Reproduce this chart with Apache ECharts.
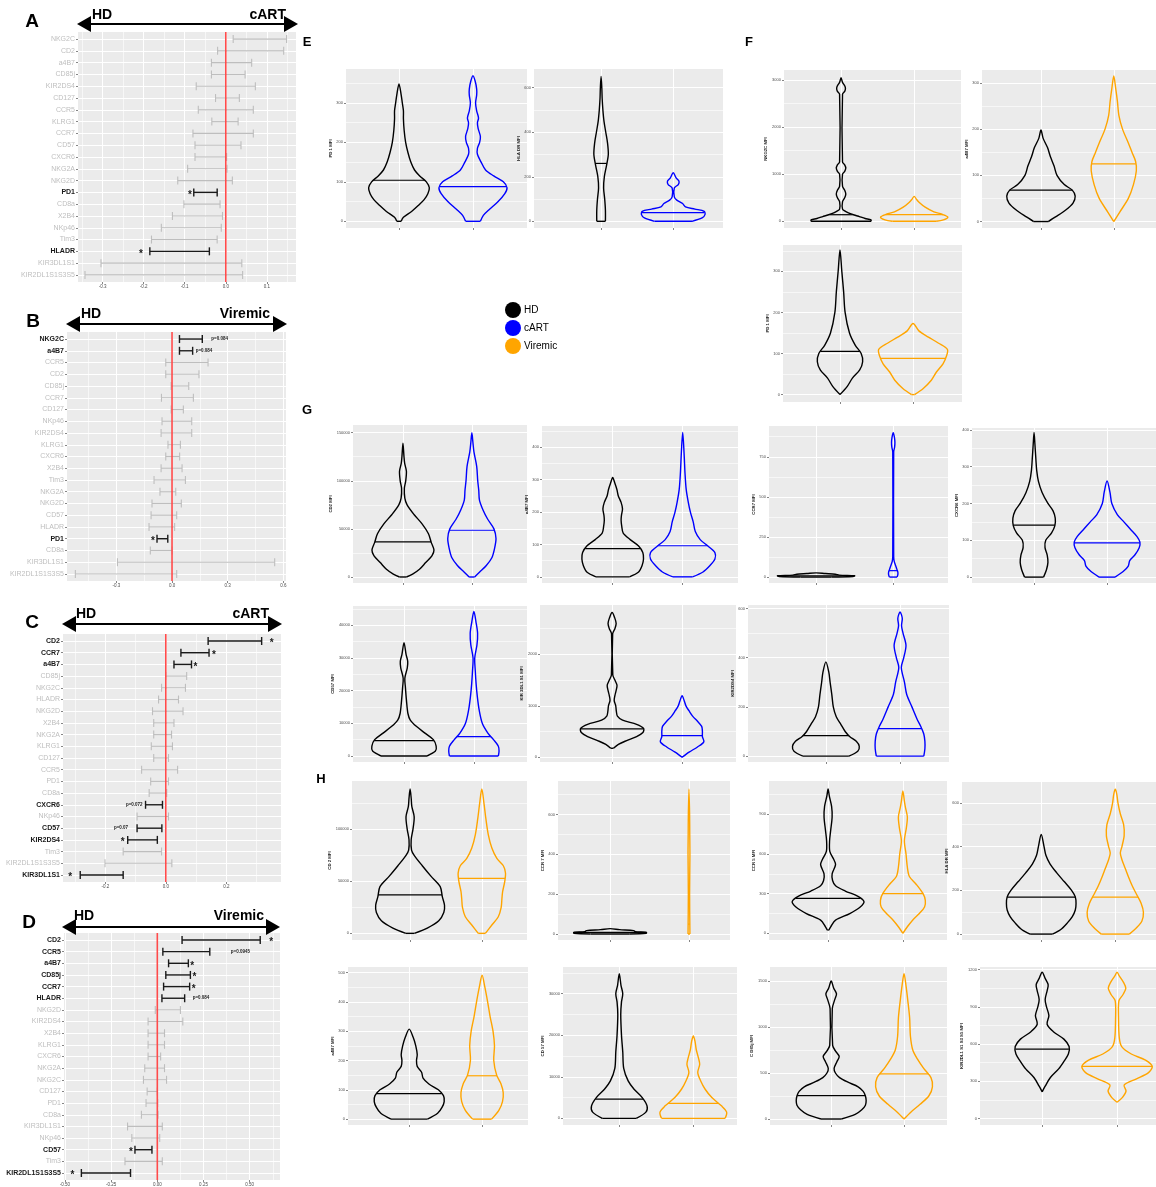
<!DOCTYPE html>
<html>
<head>
<meta charset="utf-8">
<script src="https://cdn.jsdelivr.net/npm/echarts@6/dist/echarts.min.js"></script>
<style>
html,body{margin:0;padding:0;background:#fff}
#chart{width:1156px;height:1187px}
</style>
</head>
<body>
<div id="chart"></div>
<script>
// ---------- Forest plots: marker order, interval low/high, annotations ----------
const markersA = ['NKG2C','CD2','a4B7','CD85j','KIR2DS4','CD127','CCR5','KLRG1','CCR7','CD57','CXCR6','NKG2A','NKG2D','PD1','CD8a','X2B4','NKp46','Tim3','HLADR','KIR3DL1S1','KIR2DL1S1S3S5'];
const lowA  = [0.018,-0.020,-0.035,-0.035,-0.072,-0.025,-0.067,-0.034,-0.080,-0.075,-0.075,-0.093,-0.117,-0.078,-0.102,-0.130,-0.157,-0.181,-0.185,-0.304,-0.343];
const highA = [0.148,0.141,0.063,0.047,0.072,0.033,0.067,0.030,0.067,0.037,0.002,0.003,0.016,-0.021,-0.014,-0.008,-0.011,-0.021,-0.040,0.039,0.041];
const notesA = [['PD1','*','left'],['HLADR','*','left']];
const ticksA = [-0.3,-0.2,-0.1,0,0.1];

const markersB = ['NKG2C','a4B7','CCR5','CD2','CD85j','CCR7','CD127','NKp46','KIR2DS4','KLRG1','CXCR6','X2B4','Tim3','NKG2A','NKG2D','CD57','HLADR','PD1','CD8a','KIR3DL1S1','KIR2DL1S1S3S5'];
const lowB  = [0.040,0.040,-0.034,-0.034,-0.005,-0.057,-0.005,-0.054,-0.059,-0.022,-0.034,-0.059,-0.097,-0.065,-0.108,-0.113,-0.124,-0.081,-0.117,-0.294,-0.521];
const highB = [0.163,0.111,0.194,0.145,0.090,0.115,0.061,0.106,0.106,0.045,0.041,0.054,0.072,0.020,0.050,0.025,0.014,-0.023,0.000,0.553,0.025];
const notesB = [['NKG2C','p=0.084','right'],['a4B7','p=0.084','right'],['PD1','*','left']];
const ticksB = [-0.3,0,0.3,0.6];

const markersC = ['CD2','CCR7','a4B7','CD85j','NKG2C','HLADR','NKG2D','X2B4','NKG2A','KLRG1','CD127','CCR5','PD1','CD8a','CXCR6','NKp46','CD57','KIR2DS4','Tim3','KIR2DL1S1S3S5','KIR3DL1S1'];
const lowC  = [0.140,0.050,0.027,0.000,-0.014,-0.024,-0.044,-0.040,-0.040,-0.048,-0.040,-0.080,-0.050,-0.055,-0.067,-0.095,-0.095,-0.126,-0.141,-0.201,-0.283];
const highC = [0.317,0.143,0.085,0.069,0.065,0.042,0.057,0.027,0.019,0.022,0.009,0.039,0.009,0.003,-0.011,0.009,-0.013,-0.028,-0.014,0.020,-0.141];
const notesC = [['CD2','*','right'],['CCR7','*','right'],['a4B7','*','right'],['CXCR6','p=0.072','left'],['CD57','p=0.07','left'],['KIR2DS4','*','left'],['KIR3DL1S1','*','left']];
const ticksC = [-0.2,0,0.2];

const markersD = ['CD2','CCR5','a4B7','CD85j','CCR7','HLADR','NKG2D','KIR2DS4','X2B4','KLRG1','CXCR6','NKG2A','NKG2C','CD127','PD1','CD8a','KIR3DL1S1','NKp46','CD57','Tim3','KIR2DL1S1S3S5'];
const lowD  = [0.134,0.030,0.061,0.046,0.034,0.025,-0.011,-0.050,-0.050,-0.050,-0.050,-0.068,-0.075,-0.055,-0.061,-0.086,-0.161,-0.138,-0.121,-0.175,-0.411];
const highD = [0.557,0.284,0.168,0.179,0.175,0.148,0.125,0.138,0.039,0.039,0.018,0.039,0.050,0.000,0.002,0.004,0.027,0.013,-0.029,0.027,-0.145];
const notesD = [['CD2','*','right'],['CCR5','p=0.0945','right'],['a4B7','*','right'],['CD85j','*','right'],['CCR7','*','right'],['HLADR','p=0.084','right'],['CD57','*','left'],['KIR2DL1S1S3S5','*','left']];
const ticksD = [-0.5,-0.25,0,0.25,0.5];

// ---------- Violin outlines: [MFI value, half width in group units], bottom to top ----------
const e1HD = [[0,0.03],[10,0.06],[25,0.17],[40,0.26],[55,0.34],[70,0.39],[85,0.41],[100,0.37],[115,0.28],[130,0.21],[150,0.16],[175,0.12],[200,0.09],[230,0.07],[260,0.06],[280,0.06],[300,0.045],[320,0.03],[348,0]];
const e1CART = [[0,0.1],[15,0.14],[30,0.22],[50,0.34],[70,0.43],[85,0.46],[100,0.41],[115,0.28],[130,0.17],[150,0.11],[170,0.06],[185,0.06],[200,0.09],[215,0.1],[235,0.07],[250,0.06],[262,0.075],[280,0.05],[300,0.035],[320,0.05],[335,0.05],[355,0.03],[369,0]];
const e2HD = [[0,0.06],[50,0.06],[100,0.05],[150,0.035],[200,0.045],[250,0.075],[300,0.1],[350,0.09],[400,0.065],[450,0.04],[500,0.025],[550,0.015],[600,0.01],[651,0]];
const e2CART = [[0,0.26],[15,0.4],[30,0.44],[45,0.43],[55,0.3],[65,0.17],[80,0.13],[95,0.05],[110,0.015],[150,0.015],[165,0.07],[180,0.08],[195,0.04],[218,0]];
const f1HD = [[0,0.41],[30,0.41],[60,0.33],[100,0.25],[140,0.17],[180,0.1],[220,0.05],[260,0.02],[420,0.02],[500,0.05],[580,0.065],[660,0.05],[740,0.02],[1000,0.02],[1060,0.05],[1130,0.065],[1200,0.05],[1260,0.02],[2700,0.02],[2760,0.05],[2820,0.06],[2880,0.05],[2950,0.02],[3050,0]];
const f1VIR = [[0,0.3],[30,0.4],[90,0.46],[150,0.38],[200,0.27],[300,0.15],[400,0.07],[470,0.03],[530,0]];
const f2HD = [[0,0.1],[10,0.2],[25,0.34],[40,0.44],[55,0.47],[68,0.43],[80,0.32],[100,0.22],[120,0.18],[140,0.13],[160,0.09],[180,0.03],[198,0]];
const f2VIR = [[0,0],[20,0.08],[50,0.2],[80,0.27],[110,0.31],[130,0.3],[150,0.25],[170,0.2],[200,0.12],[230,0.07],[260,0.05],[290,0.025],[315,0]];
const f3HD = [[0,0],[20,0.1],[40,0.17],[60,0.27],[80,0.31],[100,0.29],[120,0.21],[150,0.13],[200,0.07],[250,0.05],[300,0.025],[352,0]];
const f3VIR = [[0,0.02],[15,0.14],[35,0.25],[55,0.32],[75,0.41],[95,0.46],[110,0.47],[125,0.35],[140,0.21],[155,0.08],[173,0]];
const g1HD = [[0,0.05],[3000,0.14],[8000,0.24],[15000,0.33],[22000,0.42],[28000,0.45],[36000,0.41],[45000,0.37],[55000,0.28],[65000,0.16],[75000,0.06],[82000,0.027],[92000,0.02],[100000,0.04],[110000,0.05],[118000,0.025],[125000,0.015],[139000,0]];
const g1CART = [[0,0.04],[5000,0.11],[12000,0.21],[20000,0.29],[30000,0.33],[40000,0.35],[50000,0.32],[60000,0.23],[70000,0.16],[80000,0.11],[90000,0.1],[100000,0.085],[115000,0.07],[130000,0.03],[140000,0.015],[150000,0]];
const g2HD = [[0,0.24],[15,0.37],[35,0.42],[55,0.44],[75,0.43],[95,0.37],[115,0.25],[135,0.15],[155,0.13],[175,0.12],[190,0.125],[210,0.14],[230,0.12],[250,0.08],[270,0.06],[290,0.03],[307,0]];
const g2CART = [[0,0.14],[15,0.29],[35,0.39],[55,0.46],[75,0.46],[95,0.36],[115,0.25],[140,0.18],[170,0.15],[200,0.11],[230,0.08],[270,0.05],[320,0.033],[380,0.02],[446,0]];
const g3HD = [[0,0.2],[3,0.48],[8,0.5],[12,0.3],[18,0.25],[22,0.12],[26,0]];
const g3CART = [[0,0.05],[15,0.06],[30,0.06],[45,0.05],[60,0.04],[80,0.025],[100,0.012],[130,0.006],[780,0.006],[810,0.018],[840,0.022],[870,0.016],[900,0]];
const g4HD = [[0,0.13],[20,0.17],[40,0.19],[60,0.18],[80,0.15],[100,0.16],[120,0.24],[140,0.285],[160,0.29],[180,0.26],[200,0.19],[230,0.11],[260,0.06],[290,0.036],[320,0.025],[360,0.012],[393,0]];
const g4CART = [[0,0.11],[15,0.22],[30,0.29],[45,0.31],[60,0.38],[80,0.44],[95,0.45],[110,0.41],[130,0.32],[150,0.23],[170,0.14],[200,0.065],[230,0.04],[261,0]];
const g5HD = [[0,0.33],[1500,0.45],[3000,0.46],[5000,0.42],[7000,0.3],[9000,0.18],[11000,0.09],[13000,0.056],[17000,0.035],[21000,0.02],[23800,0.012],[27000,0.047],[29000,0.053],[31000,0.03],[34700,0]];
const g5CART = [[0,0.35],[1500,0.36],[3000,0.35],[5000,0.28],[7000,0.2],[10000,0.12],[14000,0.076],[18000,0.05],[22000,0.032],[26000,0.02],[30000,0.012],[34000,0.044],[37500,0.053],[41000,0.03],[44200,0]];
const g6HD = [[175,0.02],[250,0.09],[320,0.2],[400,0.35],[480,0.44],[560,0.45],[640,0.35],[720,0.15],[800,0.076],[900,0.06],[1000,0.052],[1100,0.03],[1200,0.04],[1300,0.058],[1400,0.07],[1500,0.04],[1600,0.01],[2400,0.008],[2500,0.04],[2600,0.058],[2700,0.04],[2815,0]];
const g6CART = [[0,0],[100,0.1],[200,0.22],[300,0.31],[400,0.29],[500,0.29],[600,0.28],[700,0.22],[800,0.15],[900,0.1],[1000,0.055],[1100,0.03],[1197,0]];
const g7HD = [[0,0.31],[20,0.43],[40,0.45],[60,0.41],[80,0.32],[100,0.26],[130,0.2],[160,0.14],[200,0.1],[250,0.08],[300,0.057],[340,0.04],[383,0]];
const g7CART = [[0,0.32],[30,0.335],[60,0.335],[90,0.32],[120,0.28],[150,0.23],[200,0.16],[250,0.09],[300,0.06],[360,0.017],[400,0.05],[450,0.08],[500,0.04],[530,0.02],[560,0.03],[586,0]];
const h1HD = [[0,0.06],[5000,0.24],[12000,0.4],[20000,0.47],[27000,0.48],[35000,0.45],[45000,0.42],[55000,0.29],[65000,0.17],[75000,0.057],[80000,0.02],[90000,0.015],[100000,0.04],[112000,0.057],[122000,0.024],[130000,0.015],[138800,0]];
const h1VIR = [[0,0.05],[8000,0.14],[16000,0.23],[25000,0.27],[33000,0.28],[40000,0.29],[50000,0.32],[58000,0.33],[65000,0.3],[72000,0.21],[82000,0.14],[95000,0.09],[110000,0.057],[125000,0.03],[138800,0]];
const h2HD = [[0,0.25],[4,0.46],[8,0.46],[12,0.32],[17,0.3],[22,0.12],[27,0]];
const h2VIR = [[0,0.012],[200,0.008],[400,0.012],[500,0.01],[600,0.008],[728,0]];
const h3HD = [[25,0.01],[50,0.035],[100,0.1],[150,0.29],[200,0.43],[240,0.48],[280,0.4],[320,0.23],[360,0.1],[400,0.06],[450,0.054],[520,0.1],[560,0.075],[620,0.023],[700,0.02],[780,0.035],[880,0.054],[960,0.047],[1040,0.016],[1092,0]];
const h3VIR = [[0,0],[50,0.06],[100,0.13],[150,0.22],[200,0.29],[250,0.3],[300,0.27],[370,0.18],[430,0.087],[500,0.06],[600,0.042],[700,0.02],[800,0.047],[880,0.06],[950,0.035],[1000,0.02],[1077,0]];
const h4HD = [[0,0.15],[20,0.26],[50,0.35],[80,0.42],[110,0.46],[140,0.47],[170,0.46],[200,0.41],[240,0.31],[280,0.21],[320,0.12],[360,0.063],[400,0.038],[455,0]];
const h4VIR = [[0,0.19],[30,0.29],[60,0.36],[100,0.38],[140,0.35],[180,0.29],[220,0.23],[260,0.18],[300,0.135],[340,0.09],[370,0.068],[400,0.09],[450,0.12],[500,0.113],[550,0.068],[600,0.036],[640,0.02],[662,0]];
const h5HD = [[0,0.25],[20,0.39],[40,0.45],[60,0.48],[80,0.47],[100,0.4],[120,0.27],[140,0.19],[160,0.17],[180,0.11],[200,0.1],[220,0.11],[250,0.09],[280,0.053],[307,0]];
const h5VIR = [[0,0.13],[30,0.23],[60,0.28],[90,0.29],[120,0.26],[150,0.2],[200,0.16],[250,0.17],[300,0.15],[350,0.11],[400,0.076],[450,0.038],[491,0]];
const h6HD = [[0,0.23],[1500,0.36],[3000,0.375],[5000,0.31],[7000,0.2],[9000,0.12],[12000,0.06],[16000,0.047],[20000,0.03],[25000,0.02],[28000,0.03],[30000,0.047],[32000,0.023],[34800,0]];
const h6VIR = [[0,0.43],[1500,0.45],[3000,0.38],[5000,0.25],[7000,0.16],[9000,0.1],[11000,0.06],[13000,0.086],[14500,0.07],[16500,0.04],[18500,0.023],[19800,0]];
const h7HD = [[0,0.14],[50,0.33],[100,0.42],[150,0.47],[200,0.48],[250,0.47],[300,0.44],[350,0.37],[400,0.23],[450,0.115],[500,0.058],[550,0.04],[620,0.077],[680,0.11],[740,0.058],[800,0.02],[1200,0.015],[1300,0.05],[1360,0.073],[1420,0.035],[1500,0]];
const h7VIR = [[0,0],[80,0.1],[160,0.22],[250,0.34],[350,0.39],[450,0.37],[550,0.27],[650,0.185],[750,0.12],[900,0.088],[1100,0.077],[1300,0.05],[1450,0.027],[1580,0]];
const h8HD = [[214,0],[260,0.04],[330,0.11],[400,0.22],[460,0.29],[520,0.35],[580,0.36],[640,0.29],[700,0.15],[760,0.066],[830,0.09],[900,0.058],[960,0.04],[1030,0.066],[1080,0.08],[1130,0.04],[1180,0]];
const h8VIR = [[131,0],[170,0.073],[220,0.12],[270,0.095],[320,0.26],[370,0.42],[420,0.47],[470,0.38],[520,0.19],[580,0.062],[650,0.03],[800,0.02],[950,0.025],[1000,0.08],[1050,0.117],[1100,0.084],[1150,0.03],[1180,0]];

// medians, in panel order: [first group, second group]
const mediansE1 = [104, 88];   const mediansE2 = [260, 39];
const mediansF1 = [140, 140];  const mediansF2 = [68, 125];   const mediansF3 = [105, 88];
const mediansG1 = [36500, 48600]; const mediansG2 = [87, 96]; const mediansG3 = [7, 40]; const mediansG4 = [141, 93];
const mediansG5 = [4700, 5900]; const mediansG6 = [550, 420]; const mediansG7 = [83, 112];
const mediansH1 = [36900, 52900]; const mediansH2 = [8, 50]; const mediansH3 = [265, 300]; const mediansH4 = [169, 169];
const mediansH5 = [87, 148]; const mediansH6 = [4640, 3600]; const mediansH7 = [255, 490]; const mediansH8 = [560, 420];

const groups = ['HD', 'cART', 'Viremic'];

// ---------- styling ----------
const FONT = '"Liberation Sans", Arial, sans-serif';
const BG = '#EBEBEB';
const COLORS = { HD: '#000000', cART: '#0000FF', Viremic: '#FFA500' };
const SIG = '#1a1a1a', NONSIG = '#BEBEBE';

const option = { animation: false, backgroundColor: '#ffffff', grid: [], xAxis: [], yAxis: [], series: [], graphic: [] };

function minorsOf(ticks, lo, hi) {
  const step = ticks[1] - ticks[0];
  const out = [];
  for (let v = ticks[0] - step / 2; v <= hi + 1e-9; v += step) if (v >= lo) out.push(+v.toFixed(6));
  return out;
}

// gap (px) between an interval end and its annotation
const NOTE_GAP = {'A:HLADR':7,'A:PD1':2,'B:NKG2C':9,'B:a4B7':3,'B:PD1':2,'C:CD2':8,'C:CCR7':3,'C:a4B7':2,'C:CXCR6':3,'C:CD57':9,'C:KIR2DS4':3,'C:KIR3DL1S1':8,
  'D:CD2':9,'D:CCR5':21,'D:a4B7':2,'D:CD85j':2,'D:CCR7':2,'D:HLADR':8,'D:CD57':2,'D:KIR2DL1S1S3S5':7};

function forestPanel(p) {
  const gi = option.grid.length;
  const n = p.markers.length;
  const [l, t, w, h] = p.rect;
  option.grid.push({ left: l, top: t, width: w, height: h, show: true, backgroundColor: BG, borderWidth: 0 });
  const minors = minorsOf(p.ticks, p.x[0], p.x[1]);
  const xi = option.xAxis.length;
  option.xAxis.push({
    type: 'value', gridIndex: gi, min: p.x[0], max: p.x[1], position: 'bottom',
    axisLine: { show: false, onZero: false },
    axisTick: { show: true, length: 2, lineStyle: { color: '#333', width: 0.6 }, customValues: p.ticks },
    axisLabel: { customValues: p.ticks, fontSize: 4.5, color: '#4d4d4d', margin: 2, fontFamily: FONT,
      formatter: v => v.toFixed(p.dec) },
    splitLine: { show: true, lineStyle: { color: '#ffffff', width: 1.1 } }
  });
  option.xAxis.push({
    type: 'value', gridIndex: gi, min: p.x[0], max: p.x[1], position: 'top',
    axisLine: { show: false, onZero: false },
    axisTick: { show: false, customValues: minors },
    axisLabel: { show: false, customValues: minors },
    splitLine: { show: true, lineStyle: { color: '#ffffff', width: 0.6 } }
  });
  const notes = new Map(p.notes.map(d => [d[0], { text: d[1], side: d[2] }]));
  const pos = p.markers.map((_, i) => i + 1);
  const yi = option.yAxis.length;
  option.yAxis.push({
    type: 'value', gridIndex: gi, inverse: true, min: 0.4, max: n + 0.6,
    axisLine: { show: false, onZero: false },
    axisTick: { show: true, length: 2, lineStyle: { color: '#333', width: 0.6 }, customValues: pos },
    axisLabel: {
      customValues: pos, margin: 3,
      formatter: v => { const m = p.markers[Math.round(v) - 1]; return (notes.has(m) ? '{b|' : '{g|') + m + '}'; },
      rich: {
        b: { color: SIG, fontSize: 7, fontWeight: 'bold', fontFamily: FONT },
        g: { color: NONSIG, fontSize: 7, fontFamily: FONT }
      }
    },
    splitLine: { show: true, lineStyle: { color: '#ffffff', width: 1.1 } }
  });
  option.series.push({
    type: 'custom', xAxisIndex: xi, yAxisIndex: yi, silent: true, z: 3,
    encode: { x: [1, 2], y: 0 },
    data: p.markers.map((m, i) => [i + 1, p.low[i], p.high[i]]),
    renderItem: (params, api) => {
      const i = api.value(0), lo = api.value(1), hi = api.value(2);
      const m = p.markers[i - 1];
      const note = notes.get(m);
      const col = note ? SIG : NONSIG;
      const lw = note ? 1.4 : 1.1;
      const a = api.coord([lo, i]), b = api.coord([hi, i]);
      const cap = 4;
      const st = { stroke: col, lineWidth: lw };
      const ch = [
        { type: 'line', shape: { x1: a[0], y1: a[1], x2: b[0], y2: b[1] }, style: st },
        { type: 'line', shape: { x1: a[0], y1: a[1] - cap, x2: a[0], y2: a[1] + cap }, style: st },
        { type: 'line', shape: { x1: b[0], y1: b[1] - cap, x2: b[0], y2: b[1] + cap }, style: st }
      ];
      if (note) {
        const star = note.text === '*';
        const gap = NOTE_GAP[p.id + ':' + m] || 3;
        const x = note.side === 'left' ? a[0] - gap : b[0] + gap;
        ch.push({
          type: 'text', x: x, y: a[1] + (star ? 2.5 : 0),
          style: { text: note.text, fill: SIG, font: (star ? 'bold 10px ' : 'bold 4.5px ') + FONT,
            align: note.side === 'left' ? 'right' : 'left', verticalAlign: 'middle' }
        });
      }
      return { type: 'group', children: ch };
    }
  });
  option.series.push({
    type: 'line', xAxisIndex: xi, yAxisIndex: yi, silent: true, z: 5, symbol: 'none',
    data: [[0, 0.4], [0, n + 0.6]], lineStyle: { color: '#FF4B4B', width: 1.6 }
  });
}

function widthAt(profile, v) {
  for (let i = 1; i < profile.length; i++) {
    const [v0, w0] = profile[i - 1], [v1, w1] = profile[i];
    if (v >= v0 && v <= v1) return w0 + (w1 - w0) * (v - v0) / (v1 - v0);
  }
  return 0;
}

function violinRenderer(profile, color) {
  return (params, api) => {
    const c = api.value(0), med = api.value(1);
    const right = profile.map(([v, w]) => api.coord([c + w, v]));
    let leftSrc = profile.slice().reverse();
    if (leftSrc[0][1] === 0) leftSrc = leftSrc.slice(1);
    const left = leftSrc.map(([v, w]) => api.coord([c - w, v]));
    const pts = right.concat(left);
    const st = { stroke: color, lineWidth: 1.4, fill: null, lineJoin: 'round' };
    const ch = [{ type: 'polyline', shape: { points: pts, smooth: 0.3 }, style: st }];
    if (profile[0][1] > 0) {
      const p0 = pts[0], p1 = pts[pts.length - 1];
      ch.push({ type: 'line', shape: { x1: p1[0], y1: p1[1], x2: p0[0], y2: p0[1] }, style: st });
    }
    const mw = widthAt(profile, med);
    const a = api.coord([c - mw, med]), b = api.coord([c + mw, med]);
    ch.push({ type: 'line', shape: { x1: a[0], y1: a[1], x2: b[0], y2: b[1] }, style: { stroke: color, lineWidth: 1.2 } });
    return { type: 'group', children: ch };
  };
}

function violinPanel(p) {
  const gi = option.grid.length;
  const [l, t, w, h] = p.rect;
  option.grid.push({ left: l, top: t, width: w, height: h, show: true, backgroundColor: BG, borderWidth: 0 });
  const xi = option.xAxis.length;
  option.xAxis.push({
    type: 'value', gridIndex: gi, min: p.x[0], max: p.x[1],
    axisLine: { show: false, onZero: false },
    axisTick: { show: true, length: 2, lineStyle: { color: '#333', width: 0.6 }, customValues: [1, 2] },
    axisLabel: { show: false, customValues: [1, 2] },
    splitLine: { show: true, lineStyle: { color: '#ffffff', width: 1.1 } }
  });
  const maxChars = Math.max(...p.ticks.map(v => String(v).length));
  const yi = option.yAxis.length;
  option.yAxis.push({
    type: 'value', gridIndex: gi, min: p.y[0], max: p.y[1], position: 'left',
    name: p.title, nameLocation: 'middle', nameGap: 7 + 2 * maxChars,
    nameTextStyle: { fontSize: 4.3, fontWeight: 'bold', color: '#1a1a1a', fontFamily: FONT },
    axisLine: { show: false, onZero: false },
    axisTick: { show: true, length: 2, lineStyle: { color: '#333', width: 0.6 }, customValues: p.ticks },
    axisLabel: { customValues: p.ticks, fontSize: 4, color: '#4d4d4d', margin: 3, fontFamily: FONT,
      formatter: v => String(Math.round(v)) },
    splitLine: { show: true, lineStyle: { color: '#ffffff', width: 1.1 } }
  });
  const minors = minorsOf(p.ticks, p.y[0], p.y[1]);
  option.yAxis.push({
    type: 'value', gridIndex: gi, min: p.y[0], max: p.y[1], position: 'left',
    axisLine: { show: false, onZero: false },
    axisTick: { show: false, customValues: minors },
    axisLabel: { show: false, customValues: minors },
    splitLine: { show: true, lineStyle: { color: '#ffffff', width: 0.6 } }
  });
  p.violins.forEach((prof, k) => {
    option.series.push({
      type: 'custom', xAxisIndex: xi, yAxisIndex: yi, silent: true, z: 3,
      data: [[k + 1, p.medians[k]]],
      renderItem: violinRenderer(prof, COLORS[p.groups[k]])
    });
  });
}

// ---------- forest panels ----------
forestPanel({ id: 'A', rect: [78, 32, 218, 250], x: [-0.36, 0.171], ticks: ticksA, dec: 1, markers: markersA, low: lowA, high: highA, notes: notesA });
forestPanel({ id: 'B', rect: [67, 332, 219, 249], x: [-0.566, 0.614], ticks: ticksB, dec: 1, markers: markersB, low: lowB, high: highB, notes: notesB });
forestPanel({ id: 'C', rect: [63, 634, 218, 248], x: [-0.34, 0.381], ticks: ticksC, dec: 1, markers: markersC, low: lowC, high: highC, notes: notesC });
forestPanel({ id: 'D', rect: [64, 933, 216, 249], x: [-0.505, 0.664], ticks: ticksD, dec: 2, markers: markersD, low: lowD, high: highD, notes: notesD });

// ---------- violin panels ----------
const HC = [groups[0], groups[1]], HV = [groups[0], groups[2]];
violinPanel({ rect: [346, 69, 181, 159], x: [0.284, 2.73], y: [-17, 386], ticks: [0, 100, 200, 300], title: 'PD 1 MFI', groups: HC, violins: [e1HD, e1CART], medians: mediansE1 });
violinPanel({ rect: [534, 69, 189, 159], x: [0.07, 2.69], y: [-30, 684], ticks: [0, 200, 400, 600], title: 'HLA DR MFI', groups: HC, violins: [e2HD, e2CART], medians: mediansE2 });
violinPanel({ rect: [784, 70, 177, 158], x: [0.22, 2.64], y: [-142, 3213], ticks: [0, 1000, 2000, 3000], title: 'NKG2C MFI', groups: HV, violins: [f1HD, f1VIR], medians: mediansF1 });
violinPanel({ rect: [982, 70, 174, 158], x: [0.19, 2.58], y: [-14, 328], ticks: [0, 100, 200, 300], title: 'a4B7 MFI', groups: HV, violins: [f2HD, f2VIR], medians: mediansF2 });
violinPanel({ rect: [783, 245, 179, 157], x: [0.22, 2.67], y: [-18, 364], ticks: [0, 100, 200, 300], title: 'PD 1 MFI', groups: HV, violins: [f3HD, f3VIR], medians: mediansF3 });

violinPanel({ rect: [353, 425, 174, 158], x: [0.275, 2.8], y: [-6250, 158000], ticks: [0, 50000, 100000, 150000], title: 'CD2 MFI', groups: HC, violins: [g1HD, g1CART], medians: mediansG1 });
violinPanel({ rect: [542, 426, 196, 157], x: [-0.01, 2.79], y: [-19, 466], ticks: [0, 100, 200, 300, 400], title: 'a4B7 MFI', groups: HC, violins: [g2HD, g2CART], medians: mediansG2 });
violinPanel({ rect: [769, 426, 179, 157], x: [0.39, 2.71], y: [-37, 942], ticks: [0, 250, 500, 750], title: 'CCR7 MFI', groups: HC, violins: [g3HD, g3CART], medians: mediansG3 });
violinPanel({ rect: [972, 428, 184, 155], x: [0.15, 2.67], y: [-16, 405], ticks: [0, 100, 200, 300, 400], title: 'CXCR6 MFI', groups: HC, violins: [g4HD, g4CART], medians: mediansG4 });
violinPanel({ rect: [353, 606, 174, 156], x: [0.27, 2.76], y: [-1840, 45900], ticks: [0, 10000, 20000, 30000, 40000], title: 'CD57 MFI', groups: HC, violins: [g5HD, g5CART], medians: mediansG5 });
violinPanel({ rect: [540, 605, 196, 157], x: [-0.03, 2.77], y: [-92, 2960], ticks: [0, 1000, 2000], title: 'KIR 3DL1 S1 MFI', groups: HC, violins: [g6HD, g6CART], medians: mediansG6 });
violinPanel({ rect: [748, 605, 201, 157], x: [-0.05, 2.66], y: [-24, 614], ticks: [0, 200, 400, 600], title: 'KIR2DS4 MFI', groups: HC, violins: [g7HD, g7CART], medians: mediansG7 });

violinPanel({ rect: [352, 781, 175, 159], x: [0.19, 2.63], y: [-6400, 146500], ticks: [0, 50000, 100000], title: 'CD 2 MFI', groups: HV, violins: [h1HD, h1VIR], medians: mediansH1 });
violinPanel({ rect: [558, 781, 172, 159], x: [0.34, 2.52], y: [-30, 768], ticks: [0, 200, 400, 600], title: 'CCR 7 MFI', groups: HV, violins: [h2HD, h2VIR], medians: mediansH2 });
violinPanel({ rect: [769, 781, 178, 159], x: [0.21, 2.59], y: [-50, 1152], ticks: [0, 300, 600, 900], title: 'CCR 5 MFI', groups: HV, violins: [h3HD, h3VIR], medians: mediansH3 });
violinPanel({ rect: [962, 782, 194, 158], x: [-0.07, 2.55], y: [-27, 695], ticks: [0, 200, 400, 600], title: 'HLA DR MFI', groups: HV, violins: [h4HD, h4VIR], medians: mediansH4 });
violinPanel({ rect: [348, 967, 180, 158], x: [0.16, 2.63], y: [-20, 519], ticks: [0, 100, 200, 300, 400, 500], title: 'a4B7 MFI', groups: HV, violins: [h5HD, h5VIR], medians: mediansH5 });
violinPanel({ rect: [563, 967, 174, 158], x: [0.24, 2.59], y: [-1600, 36400], ticks: [0, 10000, 20000, 30000], title: 'CD 57 MFI', groups: HV, violins: [h6HD, h6VIR], medians: mediansH6 });
violinPanel({ rect: [770, 967, 177, 158], x: [0.16, 2.59], y: [-65, 1652], ticks: [0, 500, 1000, 1500], title: 'C D85j MFI', groups: HV, violins: [h7HD, h7VIR], medians: mediansH7 });
violinPanel({ rect: [980, 967, 176, 158], x: [0.17, 2.52], y: [-53, 1222], ticks: [0, 300, 600, 900, 1200], title: 'KIR2DL1 S1 S3 S5 MFI', groups: HV, violins: [h8HD, h8VIR], medians: mediansH8 });

// ---------- headers: panel letters and direction arrows ----------
function header(letter, lx, ly, x1, x2, y, leftText, rightText, ty, ltx, rtx) {
  const g = option.graphic;
  g.push({ type: 'text', x: lx, y: ly, style: { text: letter, font: 'bold 19px ' + FONT, fill: '#000', align: 'center', verticalAlign: 'middle' } });
  g.push({ type: 'line', shape: { x1: x1 + 10, y1: y, x2: x2 - 10, y2: y }, style: { stroke: '#000', lineWidth: 1.8 } });
  g.push({ type: 'polygon', shape: { points: [[x1, y], [x1 + 14, y - 8], [x1 + 14, y + 8]] }, style: { fill: '#000' } });
  g.push({ type: 'polygon', shape: { points: [[x2, y], [x2 - 14, y - 8], [x2 - 14, y + 8]] }, style: { fill: '#000' } });
  g.push({ type: 'text', x: ltx, y: ty, style: { text: leftText, font: 'bold 14px ' + FONT, fill: '#000', align: 'left', verticalAlign: 'middle' } });
  g.push({ type: 'text', x: rtx, y: ty, style: { text: rightText, font: 'bold 14px ' + FONT, fill: '#000', align: 'right', verticalAlign: 'middle' } });
}
header('A', 32, 22, 77, 298, 24, 'HD', 'cART', 15, 92, 286);
header('B', 33, 322, 66, 287, 324, 'HD', 'Viremic', 314, 81, 270);
header('C', 32, 623, 62, 282, 624, 'HD', 'cART', 614, 76, 269);
header('D', 29, 923, 62, 280, 927, 'HD', 'Viremic', 916, 74, 264);

[['E', 307, 42], ['F', 749, 42], ['G', 307, 410], ['H', 321, 779]].forEach(([t, x, y]) => {
  option.graphic.push({ type: 'text', x: x, y: y, style: { text: t, font: 'bold 13px ' + FONT, fill: '#000', align: 'center', verticalAlign: 'middle' } });
});

// ---------- group legend ----------
groups.forEach((gname, i) => {
  option.graphic.push({ type: 'circle', shape: { cx: 513, cy: 310 + 18 * i, r: 8 }, style: { fill: COLORS[gname] } });
  option.graphic.push({ type: 'text', x: 524, y: 310 + 18 * i, style: { text: gname, font: '10px ' + FONT, fill: '#000', align: 'left', verticalAlign: 'middle' } });
});

const chart = echarts.init(document.getElementById('chart'), null, { renderer: 'canvas' });
chart.setOption(option);
</script>
</body>
</html>
